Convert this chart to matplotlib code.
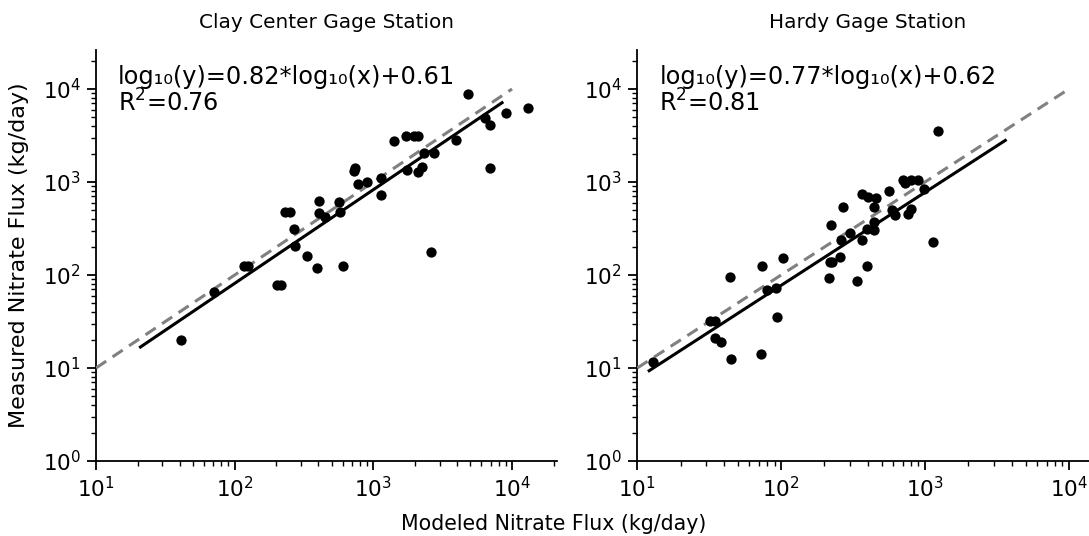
import matplotlib
matplotlib.use('Agg')
import matplotlib.pyplot as plt

# Clay Center gage station (modeled vs measured nitrate flux, kg/day)
clay_modeled = [41, 71, 116, 124, 201, 217, 232, 252, 266, 274, 333, 393,
                405, 408, 451, 569, 578, 601, 723, 736, 780, 901, 1132, 1132,
                1400, 1730, 1953, 2086, 1758, 2110, 2256, 2305, 2721, 2620,
                3967, 4817, 6420, 6895, 6895, 9100, 12960]
clay_measured = [20, 66, 125, 125, 78, 78, 472, 472, 310, 207, 161, 120,
                 468, 632, 421, 609, 480, 124, 1297, 1415, 951, 1000, 1104, 725,
                 2746, 3162, 3162, 3162, 1346, 1290, 1460, 2050, 2035, 177,
                 2830, 8790, 4900, 4080, 1407, 5560, 6295]
clay_fit_x = [20.9, 8470]
clay_fit_y = [16.8, 7120]

# Hardy gage station
hardy_modeled = [12.9, 32.0, 34.6, 34.9, 38.1, 44.7, 44.0, 73.5, 103.5, 79.5,
                 91.9, 93.8, 72.6, 215, 338, 217, 225, 258, 396, 367, 262, 1140,
                 300, 392, 442, 442, 221, 267, 442, 594, 616, 796, 762, 363, 400,
                 455, 561, 703, 723, 796, 890, 987, 1225]
hardy_measured = [11.7, 32.2, 32.2, 20.9, 18.9, 12.5, 95.9, 126, 151, 69,
                  71.6, 35.5, 14.1, 91.7, 85.1, 139, 138, 157, 125, 238, 235, 229,
                  286, 310, 305, 374, 342, 543, 538, 500, 440, 516, 451, 749, 685,
                  668, 804, 1051, 968, 1051, 1043, 841, 3535]
hardy_fit_x = [12.1, 3613]
hardy_fit_y = [9.35, 2800]

one_to_one = [10, 1e4]

titles = ['Clay Center Gage Station', 'Hardy Gage Station']
equations = ['log\u2081\u2080(y)=0.82*log\u2081\u2080(x)+0.61\nR$^2$=0.76',
             'log\u2081\u2080(y)=0.77*log\u2081\u2080(x)+0.62\nR$^2$=0.81']
xmax = [2.11e4, 1.6e4]

plt.rcParams['font.size'] = 14.4
plt.rcParams['mathtext.default'] = 'regular'

fig = plt.figure(figsize=(10.89, 5.36), dpi=100)
ax1 = fig.add_axes([0.0882, 0.140, 0.4233, 0.7668])
ax2 = fig.add_axes([0.5852, 0.140, 0.4233, 0.7668])

series = [(clay_modeled, clay_measured, clay_fit_x, clay_fit_y),
          (hardy_modeled, hardy_measured, hardy_fit_x, hardy_fit_y)]

for i, (ax, (mx, my, fx, fy)) in enumerate(zip([ax1, ax2], series)):
    ax.plot(one_to_one, one_to_one, '--', color='#808080', lw=2.2,
            dashes=(4, 2.5), zorder=3)
    ax.plot(fx, fy, '-', color='black', lw=2.2, zorder=2)
    ax.scatter(mx, my, s=55, color='black', zorder=4, linewidths=0)
    ax.set_xscale('log')
    ax.set_yscale('log')
    ax.set_xlim(10, xmax[i])
    ax.set_ylim(1, 2.63e4)
    ax.spines['top'].set_visible(False)
    ax.spines['right'].set_visible(False)
    for s in ['left', 'bottom']:
        ax.spines[s].set_linewidth(1.3)
    ax.tick_params(which='major', length=6.5, width=1.3, labelsize=15.5, pad=4.5)
    ax.tick_params(which='minor', length=3.5, width=1.0)
    ax.set_title(titles[i], fontsize=14.4, pad=16)
    ax.text(0.048, 0.963, equations[i], transform=ax.transAxes,
            fontsize=17.3, va='top', ha='left', linespacing=1.0)

ax1.set_ylabel('Measured Nitrate Flux (kg/day)', fontsize=16)
ax1.yaxis.set_label_coords(-0.145, 0.5)
fig.text(0.508, 0.003, 'Modeled Nitrate Flux (kg/day)', ha='center',
         va='bottom', fontsize=14.8)

fig.savefig('out.png', dpi=100)
